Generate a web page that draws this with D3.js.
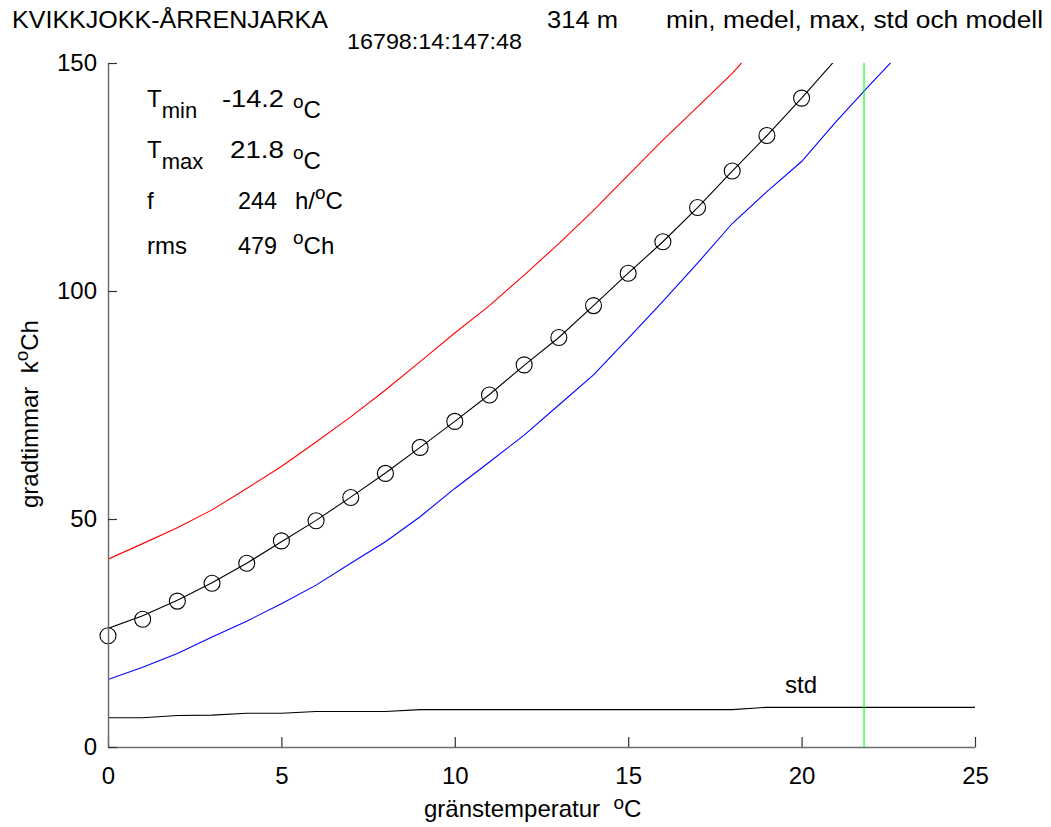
<!DOCTYPE html>
<html><head><meta charset="utf-8">
<script src="https://cdn.jsdelivr.net/npm/d3@7"></script>
<style>
body{margin:0;background:#fff}
text{font-family:"Liberation Sans",Arial,Helvetica,sans-serif;fill:#000}
</style>
</head><body><svg id="c" width="1051" height="827"></svg>
<script>
// ---- data ----
const temps = [0,1,2,3,4,5,6,7,8,9,10,11,12,13,14,15,16,17,18,19,20,21,22,23,24,25];
const meanValues = [26.0,28.8,32.2,36.0,40.3,45.0,49.7,54.8,60.1,65.7,71.4,77.3,83.7,89.8,96.8,103.9,110.8,118.3,126.3,134.1,142.3,150.9,159.5,168.2,177.0,186.0];
const maxValues  = [41.2,44.6,48.1,52.0,56.7,61.5,66.9,72.4,78.3,84.5,90.8,96.8,103.5,110.4,117.7,125.4,133.1,140.4,147.7,156.3,165.0,174.0,183.0,192.0,201.0,210.0];
const minValues  = [14.8,17.5,20.5,24.1,27.6,31.4,35.5,40.3,45.0,50.5,56.7,62.5,68.4,75.0,81.6,89.6,97.7,106.1,114.8,121.8,128.4,137.2,145.5,153.5,162.0,170.5];
const stdValues  = [6.4,6.4,6.9,7.0,7.4,7.4,7.8,7.8,7.8,8.2,8.2,8.2,8.2,8.2,8.2,8.2,8.2,8.2,8.2,8.7,8.7,8.7,8.7,8.7,8.7,8.7];
const modelTemps  = [0,1,2,3,4,5,6,7,8,9,10,11,12,13,14,15,16,17,18,19,20];
const modelValues = [24.4,28.0,32.0,35.9,40.3,45.2,49.6,54.7,60.0,65.7,71.4,77.2,83.8,89.8,96.8,103.9,110.8,118.3,126.3,134.1,142.3];
const tMaxLine = 21.8;
const xTicks = [0,5,10,15,20,25];
const yTicks = [0,50,100,150];
const titleMain = "KVIKKJOKK-ÅRRENJARKA";
const titleSub = "16798:14:147:48";
const titleAlt = "314 m";
const titleRight = "min, medel, max, std och modell";
const infoRows = [
  {label:"T", sub:"min", value:"-14.2", unit:[["o",1],["C",0]]},
  {label:"T", sub:"max", value:"21.8", unit:[["o",1],["C",0]]},
  {label:"f", sub:"", value:"244", unit:[["h/",0],["o",1],["C",0]]},
  {label:"rms", sub:"", value:"479", unit:[["o",1],["Ch",0]]}
];

// ---- layout ----
const svg = d3.select("#c");
const x = d3.scaleLinear().domain([0,25]).range([108,975]);
const y = d3.scaleLinear().domain([0,150]).range([747,63]);

svg.append("clipPath").attr("id","clip").append("rect")
  .attr("x",108).attr("y",63).attr("width",867).attr("height",684);

const plot = svg.append("g").attr("clip-path","url(#clip)");
const line = d3.line().x(d=>x(d[0])).y(d=>y(d[1]));

function series(vals, color){
  plot.append("path").datum(temps.map((t,i)=>[t,vals[i]]))
    .attr("d",line).attr("fill","none").attr("stroke",color).attr("stroke-width",1.1);
}
series(maxValues,"#ff0000");
series(minValues,"#0000ff");
series(meanValues,"#000000");
series(stdValues,"#000000");

plot.append("line").attr("x1",x(tMaxLine)).attr("x2",x(tMaxLine))
  .attr("y1",y(150)).attr("y2",y(0)).attr("stroke","#00ff00").attr("stroke-width",1.1);

svg.selectAll("circle.m").data(modelTemps).enter().append("circle")
  .attr("class","m").attr("cx",d=>x(d)).attr("cy",(d,i)=>y(modelValues[i]))
  .attr("r",8).attr("fill","none").attr("stroke","#000").attr("stroke-width",1.1);

// axes
const xAxis = svg.append("g").attr("transform",`translate(0,${y(0)})`)
  .call(d3.axisBottom(x).tickValues(xTicks).tickSizeInner(-10).tickSizeOuter(0).tickPadding(20));
const yAxis = svg.append("g").attr("transform",`translate(${x(0)},0)`)
  .call(d3.axisLeft(y).tickValues(yTicks).tickSizeInner(-9).tickSizeOuter(0).tickPadding(11));
[xAxis,yAxis].forEach(a=>{
  a.select(".domain").attr("stroke","#6e6e6e").attr("stroke-width",1.5);
  a.selectAll(".tick line").attr("stroke","#333").attr("stroke-width",1.2);
  a.selectAll(".tick text").attr("font-size",24).attr("font-family","Liberation Sans, Arial, sans-serif").attr("fill","#000");
});

// title
function txt(s, xx, yy, size, len){
  const t = svg.append("text").attr("x",xx).attr("y",yy).attr("font-size",size).text(s);
  if(len) t.attr("textLength",len).attr("lengthAdjust","spacingAndGlyphs");
  return t;
}
txt(titleMain,12,28,23,316);
txt(titleSub,347,49,22.5,175);
txt(titleAlt,547,28,23,71);
txt(titleRight,666,28,23,377);

// info box
const rowY = [107,158,209,254];
const valLen = {"-14.2":62,"21.8":54,"244":39,"479":39};
infoRows.forEach((r,i)=>{
  const by = rowY[i];
  const t = svg.append("text").attr("x",147).attr("y",by).attr("font-size",24);
  t.append("tspan").text(r.label);
  if(r.sub) t.append("tspan").attr("dy",11).attr("font-size",22).text(r.sub);
  const endX = r.value.includes(".") ? 284 : 277;
  txt(r.value, endX - valLen[r.value], by, 24, valLen[r.value]);
  const uy = r.sub ? by+11 : by;
  const u = svg.append("text").attr("x",r.unit[0][1] ? 293 : 295).attr("y",uy).attr("font-size",24);
  let up = false;
  r.unit.forEach(([s,sup])=>{
    const ts = u.append("tspan").text(s);
    if(sup && !up){ts.attr("dy",-10).attr("font-size",19); up=true;}
    else if(!sup && up){ts.attr("dy",10); up=false;}
  });
});

// std label
txt("std",785,693,24);

// axis labels
const xl = svg.append("text").attr("x",424).attr("y",817).attr("font-size",24);
xl.append("tspan").text("gränstemperatur\u00a0\u00a0");
xl.append("tspan").attr("dy",-8).attr("font-size",19).text("o");
xl.append("tspan").attr("dy",8).text("C");

const yl = svg.append("text").attr("transform","translate(38,508) rotate(-90)").attr("font-size",24);
yl.append("tspan").text("gradtimmar\u00a0\u00a0k");
yl.append("tspan").attr("dy",-10).attr("font-size",19).text("o");
yl.append("tspan").attr("dy",10).text("Ch");
</script>
</body></html>
